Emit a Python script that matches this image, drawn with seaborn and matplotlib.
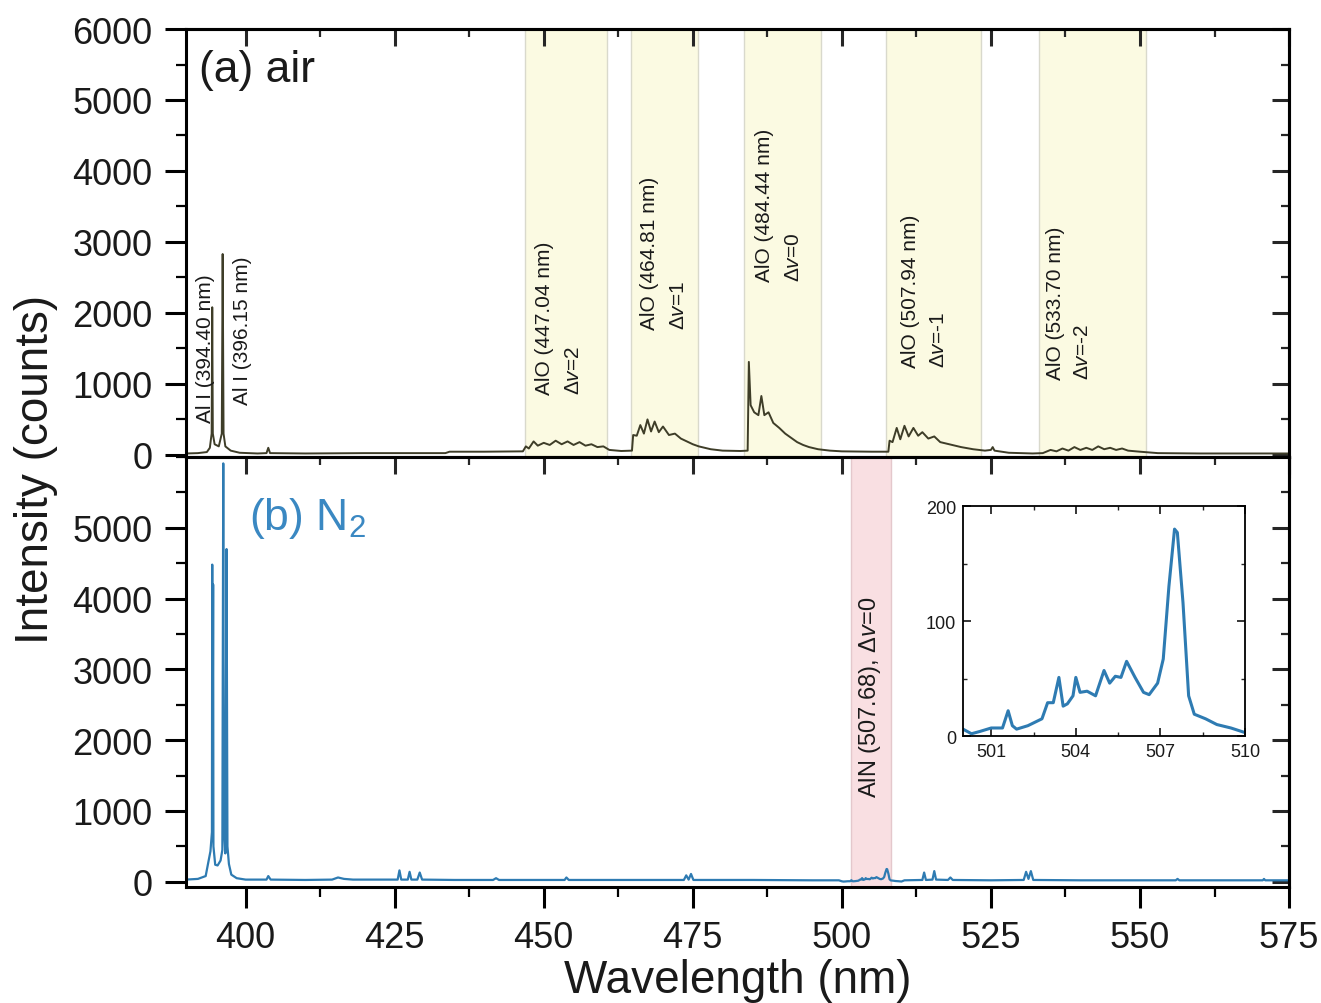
import numpy as np
import pandas as pd
import matplotlib
matplotlib.use("Agg")
import matplotlib.pyplot as plt
import seaborn as sns
from matplotlib.ticker import MultipleLocator, FixedLocator

# ---------------- data ----------------
# (a) spectrum in air
air_wl = [390, 392, 393.5, 394.0, 394.3, 394.4, 394.5, 394.8, 395.5, 396.0, 396.15, 396.3,
          396.6, 397.5, 399, 402, 403.5, 403.8, 404.1, 410, 420, 433.5, 434.2, 440, 446.5,
          447.0, 447.5, 448.3, 449, 450, 451, 452, 453, 454, 455, 456, 457, 458, 459, 460,
          461, 463, 464.8, 465.0, 465.6, 466.2, 466.8, 467.4, 468, 468.6, 469.3, 470, 471,
          472, 473, 474, 475, 476, 478, 480, 483, 484.2, 484.4, 484.7, 485.3, 486.0, 486.5,
          487.0, 487.7, 488.5, 489.5, 490.5, 491.5, 492.5, 493.5, 494.5, 496, 498, 500, 505,
          507.8, 508.0, 508.5, 509.2, 509.8, 510.5, 511.2, 512, 512.8, 513.5, 514.5, 515.5,
          516.5, 518, 520, 522, 524, 525, 525.3, 525.6, 528, 532, 533.7, 535, 536, 537, 538,
          539, 540, 541, 542, 543, 544, 545, 546, 547, 548, 550, 553, 560, 570, 575]
air_counts = [20, 25, 40, 100, 300, 2080, 300, 150, 120, 300, 2830, 300,
              120, 60, 30, 20, 25, 100, 25, 20, 25, 25, 45, 45, 50,
              120, 90, 190, 130, 170, 140, 200, 150, 190, 140, 180, 130, 150, 110, 120,
              70, 55, 60, 280, 270, 420, 300, 500, 330, 470, 320, 400, 280,
              300, 230, 190, 150, 120, 80, 60, 55, 60, 1310, 700, 600, 560, 830,
              560, 600, 450, 380, 300, 240, 180, 140, 110, 80, 60, 50, 45,
              45, 200, 180, 380, 220, 410, 260, 380, 270, 320, 230, 260,
              180, 150, 110, 80, 60, 70, 110, 60, 30, 20, 25, 70, 50, 90, 60,
              110, 70, 100, 70, 120, 80, 100, 70, 90, 60, 45, 25, 20, 20, 20]

# (b) spectrum in N2 (three consecutive pieces: before, inside and after the inset range)
n2_wl_a = [390, 392, 393.3, 393.8, 394.1, 394.35, 394.4, 394.45, 394.55, 394.6, 394.9,
           395.3, 395.8, 396.1, 396.25, 396.35, 396.6, 396.8, 396.95, 397.2, 397.6, 398.5,
           400, 403.5, 403.8, 404.2, 410, 414.5, 415.5, 416.5, 418, 425.5, 425.8, 426.1,
           427.2, 427.5, 427.8, 428.8, 429.2, 429.6, 435, 441.5, 442, 442.5, 453.5, 453.8,
           454.2, 465, 473.5, 473.9, 474.3, 474.7, 475.1, 485, 495, 499.5]
n2_counts_a = [30, 40, 80, 300, 430, 700, 4480, 1000, 4200, 500, 240,
               230, 300, 450, 5910, 800, 400, 4700, 500, 250, 100, 50,
               30, 30, 80, 30, 25, 30, 60, 40, 30, 30, 160, 30,
               30, 140, 30, 30, 130, 30, 25, 25, 50, 25, 25, 60,
               25, 25, 25, 90, 30, 110, 25, 25, 20, 20]

inset_wl = [500.0, 500.3, 500.6, 501.0, 501.4, 501.6, 501.75, 501.9, 502.3, 502.8, 503.0,
            503.2, 503.4, 503.55, 503.7, 503.9, 504.0, 504.15, 504.4, 504.7, 505.0, 505.2,
            505.4, 505.6, 505.8, 506.1, 506.4, 506.6, 506.9, 507.1, 507.3, 507.5, 507.6,
            507.8, 508.0, 508.2, 508.6, 509.0, 509.5, 510.0]
inset_counts = [6, 2, 4, 7, 7, 22, 9, 6, 9, 15, 29,
                29, 51, 26, 28, 35, 51, 38, 39, 35, 57, 46,
                52, 51, 65, 51, 38, 36, 46, 67, 130, 180, 177,
                116, 35, 19, 15, 10, 7, 3]

n2_wl_b = [510.5, 513.5, 513.8, 514.1, 515.2, 515.5, 515.8, 517.8, 518.2, 518.6, 525,
           530.5, 530.9, 531.3, 531.7, 532.1, 540, 556, 556.3, 556.6, 565, 570.6, 570.8,
           571, 575]
n2_counts_b = [20, 25, 130, 25, 30, 150, 30, 25, 60, 25, 20,
               25, 140, 40, 150, 25, 20, 20, 40, 20, 20, 20, 40,
               20, 20]

alo_bands = [(446.8, 460.6), (464.6, 475.9), (483.6, 496.5), (507.4, 523.4), (533.0, 551.0)]
alo_names = ["AlO (447.04 nm)", "AlO (464.81 nm)", "AlO (484.44 nm)",
             "AlO (507.94 nm)", "AlO (533.70 nm)"]
alo_dv = ["\u0394$v$=2", "\u0394$v$=1", "\u0394$v$=0", "\u0394$v$=-1", "\u0394$v$=-2"]
aln_band = (501.5, 508.3)
aln_name = "AlN (507.68), \u0394$v$=0"
al_names = ["Al I (394.40 nm)", "Al I (396.15 nm)"]

x_ticks = [400, 425, 450, 475, 500, 525, 550, 575]
y_ticks_a = [0, 1000, 2000, 3000, 4000, 5000, 6000]
y_ticks_b = [0, 1000, 2000, 3000, 4000, 5000]
inset_xticks = [501, 504, 507, 510]
inset_yticks = [0, 100, 200]

# ---------------- style ----------------
sns.set_theme(style="ticks")
plt.rcParams['font.family'] = ['Liberation Sans', 'DejaVu Sans']
plt.rcParams['mathtext.fontset'] = 'custom'
plt.rcParams['mathtext.rm'] = 'Liberation Sans'
plt.rcParams['mathtext.it'] = 'Liberation Sans:italic'
plt.rcParams['mathtext.bf'] = 'Liberation Sans:bold'
plt.rcParams['axes.edgecolor'] = 'black'

AIR_COLOR = "#3e3d28"
N2_COLOR = "#2e7bb2"
YELLOW = "#fbfae2"
PINK = "#f9dfe2"

df_air = pd.DataFrame({"wl": air_wl, "counts": air_counts})
df_n2 = pd.DataFrame({"wl": n2_wl_a + inset_wl + n2_wl_b,
                      "counts": n2_counts_a + inset_counts + n2_counts_b})
df_inset = pd.DataFrame({"wl": inset_wl, "counts": inset_counts})

fig = plt.figure(figsize=(13.21, 10.04), dpi=100)
ax1 = fig.add_axes([0.1408, 0.5438, 0.8350, 0.4263])
ax2 = fig.add_axes([0.1408, 0.1155, 0.8350, 0.4283], sharex=ax1)

SPW = 2.2


def style(ax, yticks, show_xlabels):
    ax.set_xlim(390, 575)
    for s in ax.spines.values():
        s.set_linewidth(SPW)
        s.set_color("black")
    ax.xaxis.set_major_locator(FixedLocator(x_ticks))
    ax.xaxis.set_minor_locator(MultipleLocator(12.5))
    ax.yaxis.set_major_locator(FixedLocator(yticks))
    ax.yaxis.set_minor_locator(MultipleLocator(500))
    ax.tick_params(which='major', direction='out', length=15, width=SPW,
                   labelsize=26, pad=9, color='black', labelcolor='#1a1a1a')
    ax.tick_params(which='minor', direction='out', length=7, width=1.6, color='black')
    ax.tick_params(axis='x', labelbottom=show_xlabels)
    sx = ax.secondary_xaxis('top')
    sx.xaxis.set_major_locator(FixedLocator(x_ticks))
    sx.xaxis.set_minor_locator(MultipleLocator(12.5))
    sx.tick_params(which='major', direction='in', length=12, width=SPW, labeltop=False)
    sx.tick_params(which='minor', direction='in', length=6, width=1.6)
    sx.spines['top'].set_linewidth(SPW)
    sy = ax.secondary_yaxis('right')
    sy.yaxis.set_major_locator(FixedLocator(yticks))
    sy.yaxis.set_minor_locator(MultipleLocator(500))
    sy.tick_params(which='major', direction='in', length=12, width=SPW, labelright=False)
    sy.tick_params(which='minor', direction='in', length=6, width=1.6)
    sy.spines['right'].set_linewidth(SPW)
    ax.set_xlabel("")
    ax.set_ylabel("")


# ---- (a) air ----
for (lo, hi) in alo_bands:
    ax1.axvspan(lo, hi, facecolor=YELLOW, edgecolor="#d9d9cc", linewidth=1.0, zorder=0)
sns.lineplot(data=df_air, x="wl", y="counts", ax=ax1, color=AIR_COLOR, linewidth=1.4,
             estimator=None, sort=False, legend=False)
ax1.set_ylim(-30, 6000)
style(ax1, y_ticks_a, False)

ax1.text(0.012, 0.905, "(a) air", transform=ax1.transAxes, fontsize=32,
         color="#1a1a1a", ha="left", va="center")

# Al I labels
al_pos = [(393.2, 465), (399.4, 720)]
for name, (x, y) in zip(al_names, al_pos):
    ax1.text(x, y, name, rotation=90, fontsize=15, ha="center", va="bottom",
             color="#1a1a1a")

# AlO labels (two rotated lines each)
alo_pos = [(450.1, 455.0, 860), (467.7, 472.6, 1775), (487.0, 491.9, 2450),
           (511.5, 516.2, 1240), (535.9, 540.3, 1070)]
for name, dv, (x1, x2, y) in zip(alo_names, alo_dv, alo_pos):
    ax1.text(x1, y, name, rotation=90, fontsize=15, ha="center", va="bottom",
             color="#1a1a1a")
    ax1.text(x2, y, dv, rotation=90, fontsize=15, ha="center", va="bottom",
             color="#1a1a1a")

# ---- (b) N2 ----
ax2.axvspan(*aln_band, facecolor=PINK, edgecolor="#e4c8cc", linewidth=1.0, zorder=0)
sns.lineplot(data=df_n2, x="wl", y="counts", ax=ax2, color=N2_COLOR, linewidth=1.6,
             estimator=None, sort=False, legend=False)
ax2.set_ylim(-75, 6000)
style(ax2, y_ticks_b, True)
ax2.set_xlabel("Wavelength (nm)", fontsize=33, labelpad=2, color="#1a1a1a")

ax2.text(0.057, 0.86, "(b) N$_2$", transform=ax2.transAxes, fontsize=32,
         color="#3a88c2", ha="left", va="center")
ax2.text(504.8, 1190, aln_name, rotation=90, fontsize=17, ha="center", va="bottom",
         color="#1a1a1a")

fig.text(0.027, 0.532, "Intensity (counts)", rotation=90, fontsize=33,
         ha="center", va="center", color="#1a1a1a")

# ---- inset ----
axi = fig.add_axes([0.729, 0.2659, 0.2135, 0.229])
sns.lineplot(data=df_inset, x="wl", y="counts", ax=axi, color=N2_COLOR, linewidth=2.2,
             estimator=None, sort=False, legend=False)
axi.set_xlim(500, 510)
axi.set_ylim(0, 200)
axi.xaxis.set_major_locator(FixedLocator(inset_xticks))
axi.xaxis.set_minor_locator(MultipleLocator(1.5))
axi.yaxis.set_major_locator(FixedLocator(inset_yticks))
axi.yaxis.set_minor_locator(MultipleLocator(50))
axi.tick_params(which='major', direction='in', length=6, width=1.3, labelsize=13,
                top=True, right=True, pad=5, labelcolor="#1a1a1a")
axi.tick_params(which='minor', direction='in', length=3, width=1.0, top=True, right=True)
for s in axi.spines.values():
    s.set_linewidth(1.3)
    s.set_color("black")
axi.set_xlabel("")
axi.set_ylabel("")

fig.savefig("out.png", dpi=100)
